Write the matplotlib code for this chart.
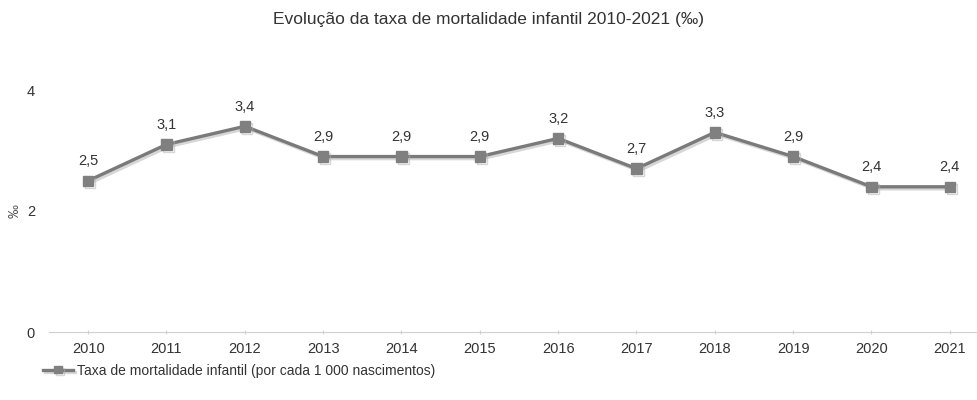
import matplotlib.pyplot as plt
import matplotlib.patheffects as pe

plt.rcParams['font.family'] = ['Liberation Sans', 'DejaVu Sans']

# dados
anos = ['2010', '2011', '2012', '2013', '2014', '2015', '2016', '2017', '2018', '2019', '2020', '2021']
taxa = [2.5, 3.1, 3.4, 2.9, 2.9, 2.9, 3.2, 2.7, 3.3, 2.9, 2.4, 2.4]

fig = plt.figure(figsize=(9.78, 4.0), dpi=100)
ax = fig.add_axes([49 / 978, 68 / 400, 940 / 978, 242 / 400])

x = list(range(len(anos)))
linha, = ax.plot(x, taxa, color='#7a7a7a', lw=2.4, marker='s', markersize=7.5,
                 markerfacecolor='#808080', markeredgecolor='#808080',
                 label='Taxa de mortalidade infantil (por cada 1 000 nascimentos)',
                 path_effects=[pe.SimpleLineShadow(offset=(1.5, -1.5), shadow_color='#b0b0b0', alpha=0.5), pe.Normal()])

for xi, v in zip(x, taxa):
    ax.annotate(f'{v:.1f}'.replace('.', ','), (xi, v), xytext=(0, 9), textcoords='offset points',
                ha='center', va='bottom', fontsize=10.5, color='#333333')

ax.set_xlim(-0.5, 11.5)
ax.set_ylim(0, 4)
ax.set_xticks(x)
ax.set_xticklabels(anos)
ax.set_yticks([0, 2, 4])
ax.set_yticklabels(['0', '2', '4'])
ax.tick_params(axis='y', length=0, pad=10, labelsize=10.5, labelcolor='#333333')
ax.tick_params(axis='x', length=3, color='#d0d0d0', pad=6, labelsize=10.5, labelcolor='#333333', direction='inout')
for s in ['top', 'right', 'left']:
    ax.spines[s].set_visible(False)
ax.spines['bottom'].set_color('#d0d0d0')
ax.set_ylabel('‰', fontsize=10, color='#555555', labelpad=4)

fig.suptitle('Evolução da taxa de mortalidade infantil 2010-2021 (‰)', x=0.5, y=0.97,
             fontsize=12.5, color='#333333')

ax.legend(handles=[linha], loc='lower left', bbox_to_anchor=(-0.02, -0.24), frameon=False,
          fontsize=10, handlelength=2.2, handletextpad=0.3, labelcolor='#333333', markerscale=0.7)

fig.savefig('out.png', dpi=100)
